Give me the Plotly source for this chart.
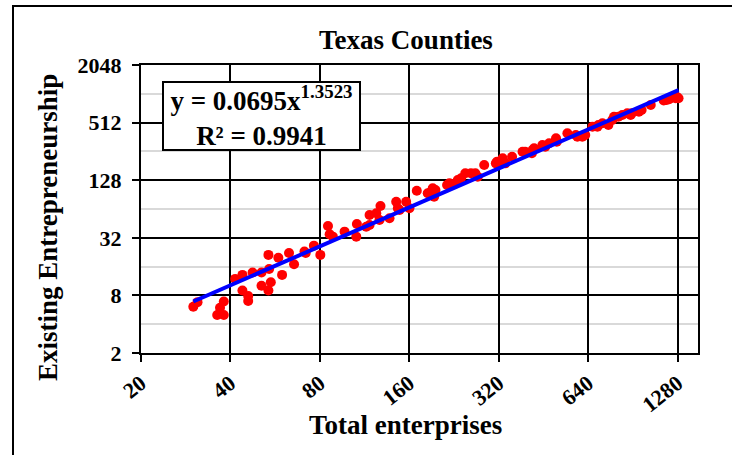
import numpy as np
import plotly.graph_objects as go

# Texas counties: total enterprises vs existing entrepreneurship
total_enterprises = [
    30, 31, 36.1, 36.9, 38.0, 38.0, 41.5, 43.9, 43.9, 45.9, 45.9, 47.5, 50.9, 50.9,
    53.7, 54.0, 53.7, 54.7, 58.0, 59.7, 63.0, 65.5, 71.7, 71.0, 76.4, 80.3, 85.2, 86.3,
    88.5, 96.9, 106.1, 106.6, 114.6, 117.6, 117.6, 123.9, 127, 128, 137.3, 144.6,
    146.4, 148.4, 156.2, 160.2, 169.6, 184.6, 189.5, 191.9, 194, 196, 214.5, 218.4,
    224, 233, 239, 247, 258, 267, 272, 286, 313, 316, 322, 330, 337, 355, 385, 393,
    414, 416, 421, 449, 459, 473, 499, 502, 499, 545, 582, 589, 612, 626, 662, 688,
    693, 715, 749, 772, 782, 809, 834, 867, 890, 897, 949, 969, 1040, 1150, 1176,
    1200, 1261, 1271, 1290,
]
existing_entrepreneurship = [
    6.1, 6.8, 5.0, 5.95, 5.0, 6.9, 11.9, 13.1, 9.0, 7.9, 7.0, 13.9, 10.1, 13.9,
    21.2, 15.1, 9.0, 11.0, 19.8, 13.1, 22.2, 16.9, 22.2, 23.0, 26.5, 21.2, 42.5, 34.8,
    32.9, 37.1, 32.9, 44.6, 41.8, 55.4, 43.5, 57.7, 49.1, 68.8, 51.2, 76.3,
    65.1, 62.5, 76.3, 65.1, 99.4, 93.4, 97, 105.4, 86, 101, 114, 118.8,
    117, 128.6, 134, 151, 151, 151, 139, 184.6, 192, 200, 200, 217, 192, 225, 254, 254,
    245, 265, 276, 299, 287, 311, 351, 323, 337, 396, 380, 365, 365, 380, 464, 464,
    483, 504, 483, 545, 590, 590, 615, 640, 615, 640, 665, 694, 782, 870, 882,
    900, 919, 955, 919,
]

# Power-law trendline coefficients
coef_a = 0.0695
coef_b = 1.3523
r_squared = 0.9941

x_ticks = [20, 40, 80, 160, 320, 640, 1280]
y_ticks = [2, 8, 32, 128, 512, 2048]
y_minor = [4, 16, 64, 256, 1024]

serif = "Liberation Serif, Times New Roman, serif"

x_fit = np.geomspace(min(total_enterprises), max(total_enterprises), 100)
y_fit = coef_a * x_fit ** coef_b

fig = go.Figure()
fig.add_trace(go.Scatter(
    x=total_enterprises, y=existing_entrepreneurship, mode="markers",
    marker=dict(color="#FF0000", size=10, line=dict(width=0)),
    showlegend=False, hoverinfo="x+y",
))
fig.add_trace(go.Scatter(
    x=x_fit, y=y_fit, mode="lines",
    line=dict(color="#0000FF", width=4),
    showlegend=False, hoverinfo="skip",
))

W, H = 732, 455
ml, mr, mt, mb = 141, 34, 65, 102
pw, ph = W - ml - mr, H - mt - mb


def px_x(p):
    return (p - ml) / pw


def px_y(p):
    return (H - mb - p) / ph


title_font = dict(size=27, weight="bold", family=serif, color="black")

fig.update_layout(
    width=W, height=H,
    margin=dict(l=ml, r=mr, t=mt, b=mb),
    paper_bgcolor="white", plot_bgcolor="white",
    font=dict(family=serif, color="black"),
    title=dict(text="Texas Counties", x=406 / W, xanchor="center",
               y=1 - 40 / H, yanchor="middle", font=title_font),
    xaxis=dict(
        type="log", range=[np.log10(20), np.log10(1500)],
        tickvals=x_ticks, ticktext=[str(v) for v in x_ticks], tickangle=-38,
        tickfont=dict(size=22, weight="bold", family=serif),
        ticklabelstandoff=0,
        showgrid=True, gridcolor="black", gridwidth=2,
        showline=True, linecolor="black", linewidth=2, mirror=True,
        ticks="outside", ticklen=7, tickwidth=2, tickcolor="black",
        zeroline=False,
    ),
    yaxis=dict(
        type="log", range=[np.log10(2), np.log10(2048)],
        tickvals=y_ticks, ticktext=[str(v) for v in y_ticks],
        tickfont=dict(size=22, weight="bold", family=serif),
        ticklabelstandoff=6,
        showgrid=True, gridcolor="black", gridwidth=2,
        minor=dict(tickvals=y_minor, showgrid=True, gridcolor="#D9D9D9",
                   gridwidth=2, ticks=""),
        showline=True, linecolor="black", linewidth=2, mirror=True,
        ticks="outside", ticklen=7, tickwidth=2, tickcolor="black",
        zeroline=False,
    ),
    annotations=[
        dict(
            xref="paper", yref="paper", x=px_x(261.5), y=px_y(116),
            xanchor="center", yanchor="middle",
            text=f"y = {coef_a}x<sup>{coef_b}</sup><br>R² = {r_squared}",
            showarrow=False, align="center", width=195, height=66,
            font=dict(size=27, weight="bold", family=serif, color="black"),
            bgcolor="white", bordercolor="black", borderwidth=2, borderpad=0,
        ),
        dict(
            xref="paper", yref="paper", x=px_x(405), y=px_y(425),
            xanchor="center", yanchor="middle", showarrow=False,
            text="Total enterprises", font=title_font,
        ),
        dict(
            xref="paper", yref="paper", x=px_x(48), y=px_y(228),
            xanchor="center", yanchor="middle", showarrow=False, textangle=-90,
            text="Existing Entrepreneurship", font=title_font,
        ),
    ],
    shapes=[dict(
        type="rect", xref="paper", yref="paper",
        x0=px_x(13), x1=px_x(W + 10),
        y0=px_y(H + 10), y1=px_y(6),
        line=dict(color="black", width=2), fillcolor="rgba(0,0,0,0)",
        layer="below",
    )],
)

fig.write_html("out.html")
